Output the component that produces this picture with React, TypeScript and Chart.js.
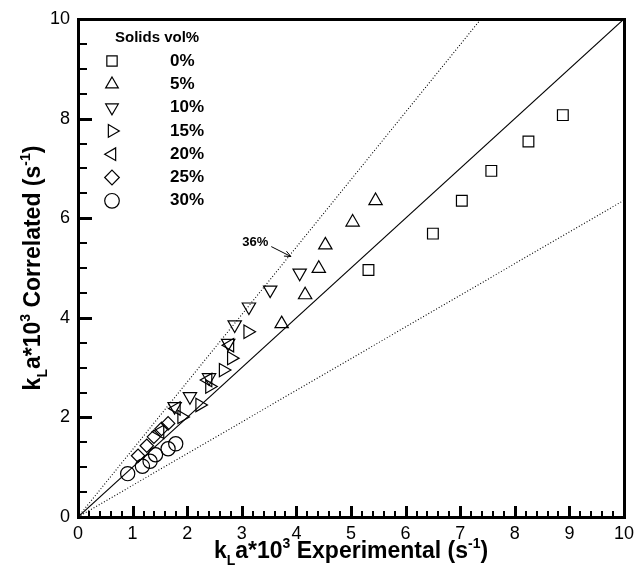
import React, { useEffect, useRef } from "react";
import { Chart, registerables } from "chart.js";

Chart.register(...registerables);

// Measured vs. correlated kLa (x10^3, s^-1) for each solids loading
const solids0: [number, number][] = [[5.32, 4.96], [6.5, 5.69], [7.03, 6.35], [7.57, 6.95], [8.25, 7.54], [8.88, 8.07]];
const solids5: [number, number][] = [[3.73, 3.88], [4.16, 4.46], [4.41, 4.99], [4.53, 5.46], [5.03, 5.92], [5.45, 6.35]];
const solids10: [number, number][] = [[1.77, 2.22], [2.05, 2.42], [2.4, 2.8], [2.75, 3.49], [2.87, 3.86], [3.13, 4.22], [3.52, 4.56], [4.06, 4.9]];
const solids15: [number, number][] = [[1.9, 2.01], [2.23, 2.25], [2.41, 2.62], [2.66, 2.95], [2.81, 3.19], [3.11, 3.72]];
const solids20: [number, number][] = [[1.5, 1.71], [1.8, 2.18], [2.38, 2.75], [2.78, 3.45]];
const solids25: [number, number][] = [[1.1, 1.23], [1.26, 1.43], [1.39, 1.61], [1.53, 1.77], [1.65, 1.88]];
const solids30: [number, number][] = [[0.91, 0.87], [1.18, 1.02], [1.32, 1.12], [1.42, 1.25], [1.65, 1.37], [1.79, 1.47]];

// Parity line and the +/-36% bounds
const parityLine: [number, number][] = [[0, 0], [10, 10]];
const upperBound: [number, number][] = [[0, 0], [7.38, 10]];
const lowerBound: [number, number][] = [[0, 0], [10, 6.36]];

const legendLabels = ["0%", "5%", "10%", "15%", "20%", "25%", "30%"];
const xMajorTicks = [0, 1, 2, 3, 4, 5, 6, 7, 8, 9, 10];
const yMajorTicks = [0, 2, 4, 6, 8, 10];
const xMinorStep = 0.2;
const yMinorStep = 0.5;
const annotationText = "36%";
// arrow tail and head in data units; the head sits on the +36% line
const arrowTail: [number, number] = [3.54, 5.43];
const arrowHead: [number, number] = [3.9, 5.23];

const FONT = "'Liberation Sans', Arial, Helvetica, sans-serif";

type Seg = { t: string; sub?: boolean; sup?: boolean };
const xTitle: Seg[] = [
  { t: "k" }, { t: "L", sub: true }, { t: "a*10" }, { t: "3", sup: true },
  { t: " Experimental (s" }, { t: "-1", sup: true }, { t: ")" },
];
const yTitle: Seg[] = [
  { t: "k" }, { t: "L", sub: true }, { t: "a*10" }, { t: "3", sup: true },
  { t: " Correlated (s" }, { t: "-1", sup: true }, { t: ")" },
];

type Shape = "rect" | "tri" | "triDown" | "triRight" | "triLeft" | "diamond" | "circle";
const shapes: Shape[] = ["rect", "tri", "triDown", "triRight", "triLeft", "diamond", "circle"];

function pathShape(ctx: CanvasRenderingContext2D, shape: Shape, x: number, y: number, r: number) {
  ctx.beginPath();
  const tri = (rot: number) => {
    for (let i = 0; i < 3; i++) {
      const a = rot + (i * 2 * Math.PI) / 3;
      const px = x + Math.sin(a) * r;
      const py = y - Math.cos(a) * r;
      if (i === 0) ctx.moveTo(px, py);
      else ctx.lineTo(px, py);
    }
    ctx.closePath();
  };
  switch (shape) {
    case "rect": {
      const s = r * Math.SQRT1_2;
      ctx.rect(x - s, y - s, 2 * s, 2 * s);
      break;
    }
    case "tri": tri(0); break;
    case "triDown": tri(Math.PI); break;
    case "triRight": tri(Math.PI / 2); break;
    case "triLeft": tri(-Math.PI / 2); break;
    case "diamond":
      ctx.moveTo(x, y - r); ctx.lineTo(x + r, y); ctx.lineTo(x, y + r); ctx.lineTo(x - r, y); ctx.closePath();
      break;
    case "circle": ctx.arc(x, y, r, 0, Math.PI * 2); break;
  }
  ctx.stroke();
}

function drawRich(ctx: CanvasRenderingContext2D, segs: Seg[], size: number) {
  const small = Math.round(size * 0.6);
  let total = 0;
  const widths = segs.map((s) => {
    ctx.font = `bold ${s.sub || s.sup ? small : size}px ${FONT}`;
    const w = ctx.measureText(s.t).width;
    total += w;
    return w;
  });
  let x = -total / 2;
  segs.forEach((s, i) => {
    ctx.font = `bold ${s.sub || s.sup ? small : size}px ${FONT}`;
    const dy = s.sub ? size * 0.3 : s.sup ? -size * 0.42 : 0;
    ctx.fillText(s.t, x, dy);
    x += widths[i];
  });
}

// Frame, inward tick marks, in-plot legend, annotation and axis titles
const decorPlugin = {
  id: "decor",
  afterDraw(chart: any) {
    const ctx: CanvasRenderingContext2D = chart.ctx;
    const a = chart.chartArea;
    const xs = chart.scales.x;
    const ys = chart.scales.y;
    ctx.save();
    ctx.setLineDash([]);
    ctx.globalAlpha = 1;
    ctx.strokeStyle = "#000000";
    ctx.fillStyle = "#000000";

    // tick marks pointing into the plot (filled bars)
    const nx = Math.round((xs.max - xs.min) / xMinorStep);
    for (let i = 0; i <= nx; i++) {
      const v = xs.min + i * xMinorStep;
      const px = Math.round(xs.getPixelForValue(v));
      const major = i % 5 === 0;
      const len = major ? 11 : 6;
      const w = major ? 3 : 2;
      ctx.fillRect(px - Math.floor(w / 2), a.bottom - len, w, len);
    }
    const ny = Math.round((ys.max - ys.min) / yMinorStep);
    for (let i = 0; i <= ny; i++) {
      const v = ys.min + i * yMinorStep;
      const py = Math.round(ys.getPixelForValue(v));
      const major = i % 4 === 0;
      const len = major ? 14 : 9;
      const w = major ? 3 : 2;
      ctx.fillRect(a.left, py - Math.floor(w / 2), len, w);
    }

    // plot frame
    const L = Math.round(a.left), R = Math.round(a.right), T = Math.round(a.top), B = Math.round(a.bottom);
    ctx.fillRect(L - 1, T - 1, R - L + 3, 3);
    ctx.fillRect(L - 1, B - 1, R - L + 3, 3);
    ctx.fillRect(L - 1, T - 1, 3, B - T + 3);
    ctx.fillRect(R - 1, T - 1, 3, B - T + 3);

    // legend
    ctx.textBaseline = "middle";
    ctx.textAlign = "left";
    ctx.font = `bold 15px ${FONT}`;
    ctx.fillText("Solids vol%", 115, 38);
    ctx.lineWidth = 1.2;
    legendLabels.forEach((lab, i) => {
      const y = 61 + i * 23.3;
      pathShape(ctx, shapes[i], 112, y, 7.3);
      ctx.font = `bold 17px ${FONT}`;
      ctx.fillText(lab, 170, y);
    });

    // bound label with arrow
    const x0 = xs.getPixelForValue(arrowTail[0]);
    const y0 = ys.getPixelForValue(arrowTail[1]);
    const x1 = xs.getPixelForValue(arrowHead[0]);
    const y1 = ys.getPixelForValue(arrowHead[1]);
    ctx.font = `bold 13px ${FONT}`;
    ctx.textAlign = "right";
    ctx.fillText(annotationText, x0 - 3, y0 - 4);
    ctx.textAlign = "left";
    ctx.lineWidth = 1;
    ctx.beginPath();
    ctx.moveTo(x0, y0);
    ctx.lineTo(x1, y1);
    ctx.stroke();
    const ang = Math.atan2(y1 - y0, x1 - x0);
    ctx.beginPath();
    ctx.moveTo(x1, y1);
    ctx.lineTo(x1 - 7 * Math.cos(ang - 0.4), y1 - 7 * Math.sin(ang - 0.4));
    ctx.moveTo(x1, y1);
    ctx.lineTo(x1 - 7 * Math.cos(ang + 0.4), y1 - 7 * Math.sin(ang + 0.4));
    ctx.stroke();

    // axis titles
    ctx.textAlign = "left";
    ctx.textBaseline = "alphabetic";
    ctx.save();
    ctx.translate((a.left + a.right) / 2, 558);
    drawRich(ctx, xTitle, 23);
    ctx.restore();
    ctx.save();
    ctx.translate(40, (a.top + a.bottom) / 2);
    ctx.rotate(-Math.PI / 2);
    drawRich(ctx, yTitle, 23);
    ctx.restore();

    ctx.restore();
  },
};

const toPts = (arr: [number, number][]) => arr.map(([x, y]) => ({ x, y }));

export default function App() {
  const ref = useRef<HTMLCanvasElement>(null);
  useEffect(() => {
    document.body.style.margin = "0";
    const markerDs = (label: string, data: [number, number][], style: string, rotation = 0, radius = 7.7) => ({
      type: "scatter" as const,
      label,
      data: toPts(data),
      pointStyle: style,
      rotation,
      pointRadius: radius,
      pointBorderColor: "#000",
      pointBackgroundColor: "rgba(0,0,0,0)",
      pointBorderWidth: 1.2,
      showLine: false,
    });
    const lineDs = (label: string, data: [number, number][], dash: number[]) => ({
      type: "line" as const,
      label,
      data: toPts(data),
      borderColor: "#000",
      borderWidth: 1.1,
      borderDash: dash,
      pointRadius: 0,
      fill: false,
    });
    const chart = new Chart(ref.current!, {
      type: "scatter",
      data: {
        datasets: [
          lineDs("parity", parityLine, []),
          lineDs("+36%", upperBound, [1, 2]),
          lineDs("-36%", lowerBound, [1, 2]),
          markerDs("0%", solids0, "rect", 0, 7.6),
          markerDs("5%", solids5, "triangle"),
          markerDs("10%", solids10, "triangle", 180),
          markerDs("15%", solids15, "triangle", 90),
          markerDs("20%", solids20, "triangle", 270),
          markerDs("25%", solids25, "rectRot", 0, 6.7),
          markerDs("30%", solids30, "circle", 0, 7.1),
        ] as any,
      },
      options: {
        animation: false,
        responsive: false,
        layout: { padding: { top: 19, right: 15, left: 0, bottom: 0 } },
        plugins: { legend: { display: false }, tooltip: { enabled: false } },
        scales: {
          x: {
            type: "linear",
            min: 0,
            max: 10,
            afterFit: (s: any) => { s.height = 54; },
            afterBuildTicks: (s: any) => { s.ticks = xMajorTicks.map((v) => ({ value: v })); },
            grid: { display: false, drawTicks: false },
            border: { display: false },
            ticks: { color: "#000", padding: 6, font: { family: FONT, size: 18 } },
          },
          y: {
            type: "linear",
            min: 0,
            max: 10,
            afterFit: (s: any) => { s.width = 78; },
            afterBuildTicks: (s: any) => { s.ticks = yMajorTicks.map((v) => ({ value: v })); },
            grid: { display: false, drawTicks: false },
            border: { display: false },
            ticks: { color: "#000", padding: 8, font: { family: FONT, size: 18 } },
          },
        },
      },
      plugins: [decorPlugin],
    });
    return () => chart.destroy();
  }, []);
  return <canvas ref={ref} width={640} height={571} style={{ display: "block" }} />;
}
